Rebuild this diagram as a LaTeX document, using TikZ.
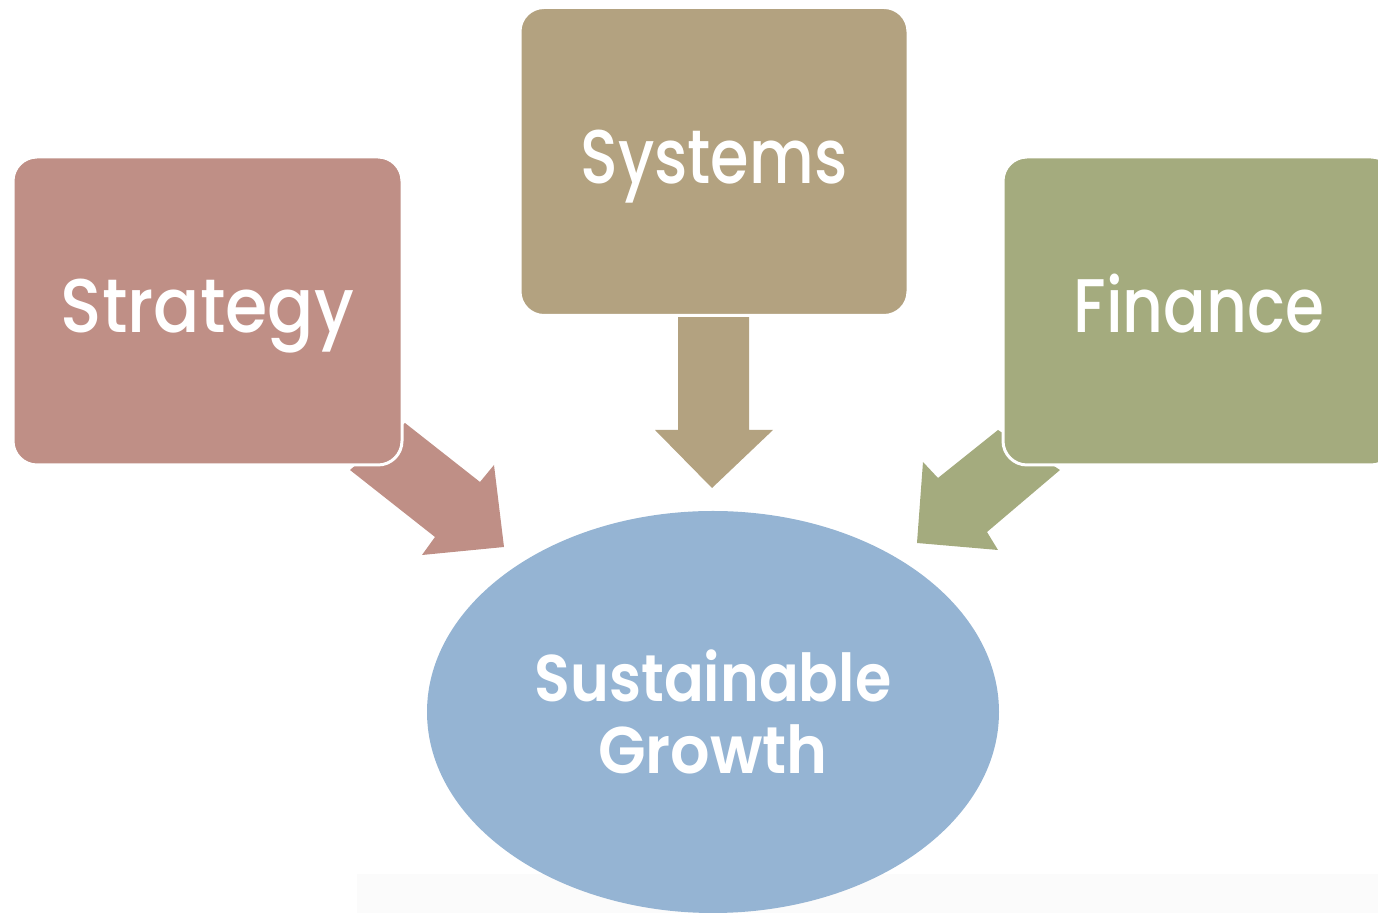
\documentclass[tikz,border=0pt]{standalone}
\usepackage{fontspec}
\usetikzlibrary{shapes.geometric}
\setmainfont{Poppins}
\newfontfamily\boldpop{Poppins SemiBold}
\newfontfamily\medpop{Poppins Medium}
\definecolor{cstrat}{HTML}{BF8F86}
\definecolor{csys}{HTML}{B3A280}
\definecolor{cfin}{HTML}{A4AB7E}
\definecolor{cgrow}{HTML}{95B4D3}
\begin{document}
\begin{tikzpicture}[x=0.5pt,y=-0.5pt,
  box/.style={rounded corners=12pt,draw=white,line width=1.5pt,minimum width=#1,minimum height=154pt,inner sep=0pt,text=white,text height=22pt,text depth=0pt,font=\medpop\fontsize{38}{40}\selectfont}]
\useasboundingbox (0,0) rectangle (1378,913);
\clip (0,0) rectangle (1378,913);
\fill[black!1.5] (357,874) rectangle (1378,913);
% ellipse
\node[ellipse,fill=cgrow,minimum width=286pt,minimum height=201pt,inner sep=0pt,text=white,align=center,font=\boldpop\fontsize{33}{36}\selectfont] (grow) at (713,712) {\scalebox{0.89}[1]{Sustainable}\\\scalebox{0.94}[1]{Growth}};
% arrows (drawn beneath boxes)
\fill[cstrat] (405,423) -- (480,482) -- (494,465) -- (504,547) -- (422,555) -- (435,537) -- (350,470) -- cycle;
\fill[cfin] (998,430) -- (938,478) -- (923,462) -- (917,543) -- (998,550) -- (987,532) -- (1060,470) -- cycle;
\fill[csys] (678,316) -- (749,316) -- (749,430) -- (773,430) -- (712,488) -- (655,430) -- (678,430) -- cycle;
% boxes
\node[box=194.5pt,fill=cstrat] (strat) at (207.5,311) {\scalebox{0.9}[1]{Strategy}};
\node[box=194pt,fill=csys] (sys) at (714,161.5) {\scalebox{0.82}[1]{Systems}};
\node[box=196pt,fill=cfin] (fin) at (1199,311) {\scalebox{0.83}[1]{Finance}};
\end{tikzpicture}
\end{document}
